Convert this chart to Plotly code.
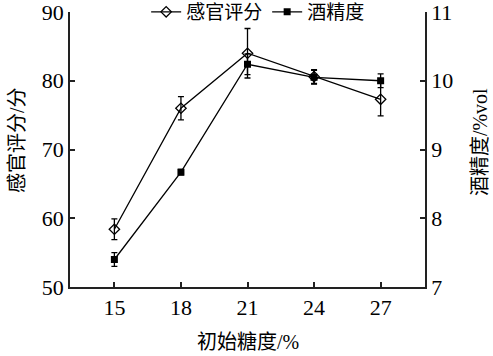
import plotly.graph_objects as go

sugar = [15, 18, 21, 24, 27]
sensory = [58.4, 76.0, 84.0, 80.6, 77.3]
sensory_err = [1.5, 1.7, 3.6, 1.0, 2.4]
alcohol = [7.40, 8.67, 10.24, 10.05, 10.00]
alcohol_err = [0.1, 0.04, 0.15, 0.1, 0.1]

FONT = "Liberation Serif, Times New Roman, Noto Sans CJK SC"

fig = go.Figure()
fig.add_trace(go.Scatter(
    x=sugar, y=sensory, name="感官评分", mode="lines+markers",
    line=dict(color="black", width=1.3),
    marker=dict(symbol="diamond-open", size=8, color="black", line=dict(width=1.3)),
    error_y=dict(type="data", array=sensory_err, color="black", thickness=1.3, width=3),
    yaxis="y",
))
fig.add_trace(go.Scatter(
    x=sugar, y=alcohol, name="酒精度", mode="lines+markers",
    line=dict(color="black", width=1.3),
    marker=dict(symbol="square", size=7, color="black"),
    error_y=dict(type="data", array=alcohol_err, color="black", thickness=1.3, width=3),
    yaxis="y2",
))

axis_common = dict(
    showline=True, linecolor="#222", linewidth=1.5,
    ticks="inside", ticklen=5, tickwidth=1.5, tickcolor="#222",
    showgrid=False, zeroline=False, automargin=False,
    ticklabeloverflow="allow",
    tickfont=dict(family=FONT, size=22, color="black"),
)

fig.update_layout(
    width=493, height=356,
    margin=dict(l=70, r=68, t=12, b=69, autoexpand=False),
    paper_bgcolor="white", plot_bgcolor="white",
    font=dict(family=FONT, color="black"),
    xaxis=dict(
        range=[13, 29], tickvals=sugar, **axis_common,
    ),
    yaxis=dict(
        range=[50, 90], tickvals=[50, 60, 70, 80, 90], **axis_common,
    ),
    yaxis2=dict(
        range=[7, 11], tickvals=[7, 8, 9, 10, 11], overlaying="y", side="right",
        **axis_common,
    ),
    annotations=[
        dict(text="初始糖度/%", xref="paper", yref="paper", x=0.5, y=-0.2,
             xanchor="center", yanchor="middle", showarrow=False,
             font=dict(family=FONT, size=20, color="black")),
        dict(text="感官评分/分", xref="paper", yref="paper", x=-0.149, y=0.535,
             xanchor="center", yanchor="middle", textangle=-90, showarrow=False,
             font=dict(family=FONT, size=20, color="black")),
        dict(text="酒精度/%vol", xref="paper", yref="paper", x=1.155, y=0.527,
             xanchor="center", yanchor="middle", textangle=-90, showarrow=False,
             font=dict(family=FONT, size=20, color="black")),
    ],
    showlegend=True,
    legend=dict(
        orientation="h", x=0.53, xanchor="center", y=1.0, yanchor="middle",
        bgcolor="rgba(0,0,0,0)", font=dict(family=FONT, size=19),
        itemwidth=30, tracegroupgap=0,
    ),
)

fig.write_html("out.html", config={"displayModeBar": False},
               post_script="document.body.style.margin='0';")
